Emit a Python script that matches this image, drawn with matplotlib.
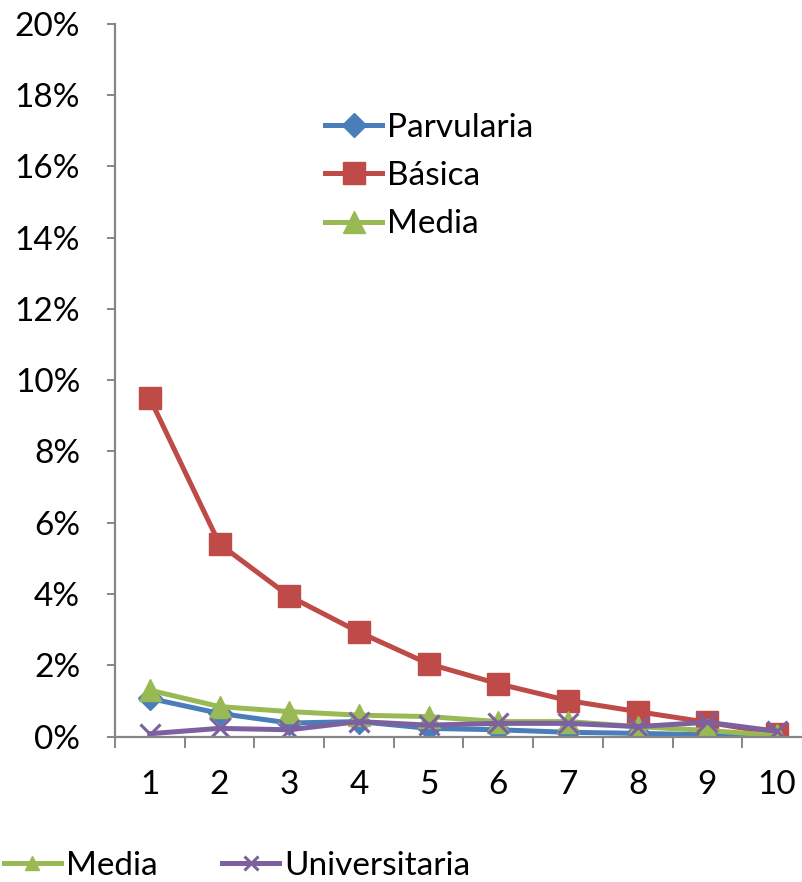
import matplotlib
matplotlib.use("Agg")
import matplotlib.pyplot as plt
from matplotlib.ticker import FuncFormatter

plt.rcParams['font.family'] = ['Lato', 'DejaVu Sans']

categories = [1, 2, 3, 4, 5, 6, 7, 8, 9, 10]
parvularia = [1.07, 0.65, 0.38, 0.42, 0.23, 0.19, 0.12, 0.09, 0.05, 0.0]
basica = [9.49, 5.40, 3.94, 2.93, 2.04, 1.48, 1.01, 0.70, 0.40, 0.08]
media = [1.30, 0.84, 0.70, 0.60, 0.56, 0.42, 0.42, 0.28, 0.17, 0.03]
universitaria = [0.08, 0.23, 0.19, 0.42, 0.32, 0.37, 0.37, 0.28, 0.40, 0.15]
y_ticks = [0, 2, 4, 6, 8, 10, 12, 14, 16, 18, 20]

C_BLUE = '#4A7EBB'
C_RED = '#BE4B48'
C_GREEN = '#98B954'
C_PURPLE = '#7D60A0'
AXIS_GRAY = '#868686'
FS = 24

fig = plt.figure(figsize=(8.02, 8.82), dpi=100)
ax = fig.add_axes([0.1434, 0.1649, 0.869, 0.8083])

lw = 3.6
l1, = ax.plot(categories, parvularia, color=C_BLUE, lw=lw, marker='D', ms=12,
              mfc=C_BLUE, mec=C_BLUE, label='Parvularia')
l2, = ax.plot(categories, basica, color=C_RED, lw=lw, marker='s', ms=15.5,
              mfc=C_RED, mec=C_RED, label='Básica')
l3, = ax.plot(categories, media, color=C_GREEN, lw=lw, marker='^', ms=16,
              mfc=C_GREEN, mec=C_GREEN, label='Media')
l4, = ax.plot(categories, universitaria, color=C_PURPLE, lw=lw, marker='x', ms=15,
              mew=2.2, mec=C_PURPLE, label='Universitaria')

ax.set_xlim(0.5, 10.5)
ax.set_ylim(0, 20)
ax.set_yticks(y_ticks)
ax.yaxis.set_major_formatter(FuncFormatter(lambda v, p: f"{int(v)}%"))
ax.set_xticks(categories)
ax.set_xticks([c - 0.5 for c in categories] + [10.5], minor=True)

for s in ['top', 'right']:
    ax.spines[s].set_visible(False)
for s in ['left', 'bottom']:
    ax.spines[s].set_color(AXIS_GRAY)
    ax.spines[s].set_linewidth(1.6)

ax.tick_params(axis='y', which='major', length=6, width=1.4, color=AXIS_GRAY,
               pad=19, labelsize=FS, direction='out')
ax.tick_params(axis='x', which='major', length=0, pad=24, labelsize=FS)
ax.tick_params(axis='x', which='minor', length=8, width=1.4, color=AXIS_GRAY,
               direction='out')
for lab in ax.get_xticklabels() + ax.get_yticklabels():
    lab.set_color('black')

leg = ax.legend(handles=[l1, l2, l3], loc='upper left',
                bbox_to_anchor=(0.302, 0.875), frameon=False, fontsize=FS,
                handlelength=1.7, handletextpad=0.15, labelspacing=0.55,
                borderpad=0, borderaxespad=0)

leg2 = fig.legend(handles=[l3, l4], loc='lower left', ncol=2,
                  bbox_to_anchor=(0.005, 0.001), frameon=False, fontsize=FS,
                  handlelength=1.7, handletextpad=0.15, columnspacing=1.95,
                  borderpad=0, borderaxespad=0)
for h in leg2.legend_handles:
    h.set_markersize(10)

fig.savefig('out.png', dpi=100)
